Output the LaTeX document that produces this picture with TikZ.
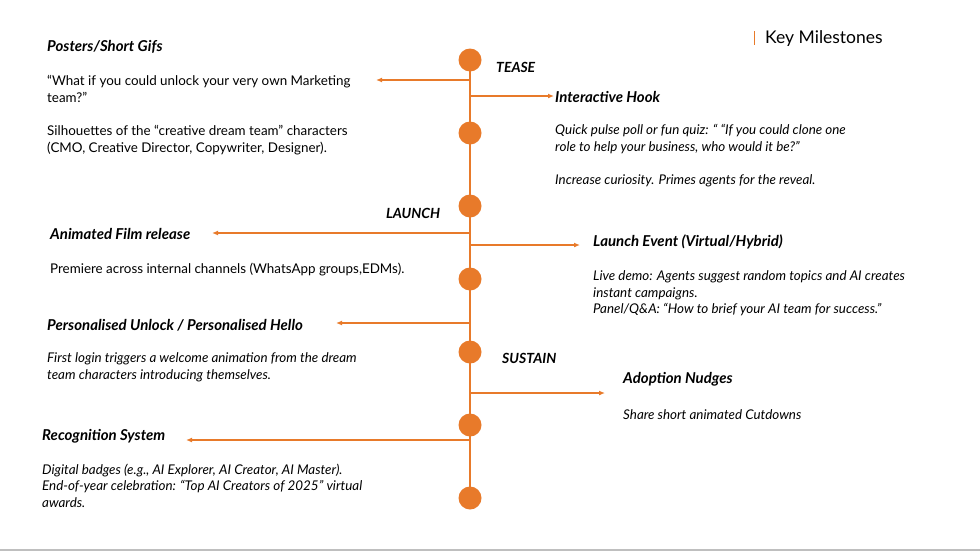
\documentclass[tikz,border=0pt]{standalone}
\usepackage{fontspec}
\setmainfont{Lato}
\usetikzlibrary{arrows.meta}
\definecolor{milestone}{HTML}{E87A2A}

\begin{document}
\begin{tikzpicture}[x=1pt,y=-1pt,
		dot/.style={circle, fill=milestone, minimum size=23pt, inner sep=0pt},
		head/.style={anchor=west, inner sep=0pt, font=\fontsize{15}{16}\selectfont\bfseries\itshape},
		body/.style={anchor=north west, inner sep=0pt, align=left, font=\fontsize{13.4}{16.5}\selectfont},
		ibody/.style={body, font=\fontsize{13.4}{16.5}\selectfont\itshape},
		phase/.style={anchor=west, inner sep=0pt, font=\fontsize{14}{16}\selectfont\bfseries\itshape},
		link/.style={milestone, line width=1.2pt, -{Latex[length=6pt,width=5pt]}}
	]
	\useasboundingbox (0,0) rectangle (980,552);
	\draw[black!25, line width=1.5pt] (0,550) -- (980,550);

	% title
	\draw[milestone, line width=1pt] (754,31) -- (754,45);
	\node[anchor=west, inner sep=0pt, font=\fontsize{17.5}{20}\selectfont] (title) at (765,39) {Key Milestones};

	% timeline
	\coordinate (top) at (470,60);
	\coordinate (bottom) at (470,498);
	\draw[milestone, line width=1.5pt] (top) -- (bottom);
	\foreach \i/\y in {1/60,2/133,3/206,4/279,5/352,6/425,7/498}
		\node[dot] (m\i) at (470,\y) {};

	% phases
	\node[phase] (tease) at (496,67) {TEASE};
	\node[phase] (launch) at (386,213) {LAUNCH};
	\node[phase] (sustain) at (502,358) {SUSTAIN};

	% left side
	\node[head] (posters) at (47,47) {Posters/Short Gifs};
	\node[body] (posterstxt) at (47,75.5) {“What if you could unlock your very own Marketing\\team?”\\[17pt]Silhouettes of the “creative dream team” characters\\(CMO, Creative Director, Copywriter, Designer).};
	\node[head] (film) at (50,234) {Animated Film release};
	\node[body] (filmtxt) at (50,262.5) {Premiere across internal channels (WhatsApp groups,EDMs).};
	\node[head] (unlock) at (47,325) {Personalised Unlock / Personalised Hello};
	\node[ibody] (unlocktxt) at (47,352.5) {First login triggers a welcome animation from the dream\\team characters introducing themselves.};
	\node[head] (recog) at (42,436) {Recognition System};
	\node[ibody] (recogtxt) at (42,463.5) {Digital badges (e.g., AI Explorer, AI Creator, AI Master).\\End-of-year celebration: “Top AI Creators of 2025” virtual\\awards.};

	% right side
	\node[head] (hook) at (555,97) {Interactive Hook};
	\node[ibody] (hooktxt) at (555,124.5) {Quick pulse poll or fun quiz: “ “If you could clone one\\role to help your business, who would it be?”\\[17pt]Increase curiosity. Primes agents for the reveal.};
	\node[head] (event) at (593,242) {Launch Event (Virtual/Hybrid)};
	\node[ibody] (eventtxt) at (593,270.5) {Live demo: Agents suggest random topics  and AI creates\\instant campaigns.\\Panel/Q\&A: “How to brief your AI team for success.”};
	\node[head] (nudge) at (623,379) {Adoption Nudges};
	\node[ibody] (nudgetxt) at (623,409.5) {Share short animated Cutdowns};

	% connectors
	\coordinate (a1) at (470,80);  \coordinate (e1) at (376,80);
	\coordinate (a2) at (470,96);  \coordinate (e2) at (554,96);
	\coordinate (a3) at (470,233); \coordinate (e3) at (212,233);
	\coordinate (a4) at (470,245); \coordinate (e4) at (580,245);
	\coordinate (a5) at (470,323); \coordinate (e5) at (336,323);
	\coordinate (a6) at (470,393); \coordinate (e6) at (605,393);
	\coordinate (a7) at (470,440); \coordinate (e7) at (186,440);
	\foreach \i in {1,...,7}
		\draw[link] (a\i) -- (e\i);
\end{tikzpicture}
\end{document}
